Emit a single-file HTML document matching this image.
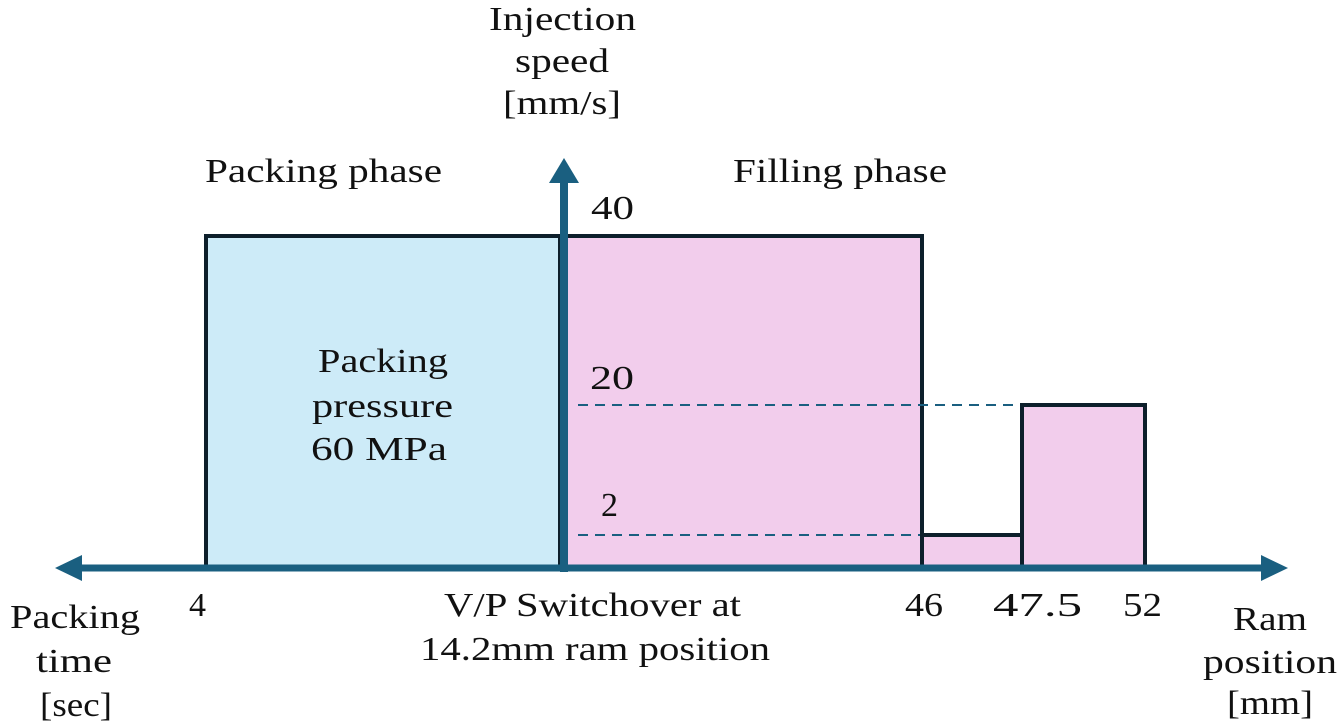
<!DOCTYPE html>
<html><head><meta charset="utf-8"><style>
body{margin:0;background:#fff}
svg{display:block}
text{font-family:"Liberation Serif",serif;font-size:34px;fill:#111}
</style></head><body>
<svg width="1339" height="728" viewBox="0 0 1339 728">
<rect x="206" y="236" width="354" height="332" fill="#cdebf8" stroke="#0d1f2b" stroke-width="4"/>
<rect x="564" y="236" width="358" height="332" fill="#f2cdec" stroke="#0d1f2b" stroke-width="4"/>
<rect x="922" y="535" width="100" height="33" fill="#f2cdec" stroke="#0d1f2b" stroke-width="4"/>
<rect x="1022" y="405" width="123" height="163" fill="#f2cdec" stroke="#0d1f2b" stroke-width="4"/>
<line x1="578" y1="405" x2="1020" y2="405" stroke="#1a5f80" stroke-width="2" stroke-dasharray="10,7"/>
<line x1="578" y1="535" x2="920" y2="535" stroke="#1a5f80" stroke-width="2" stroke-dasharray="10,7"/>
<line x1="80" y1="568" x2="1265" y2="568" stroke="#1a5f80" stroke-width="7"/>
<polygon points="55,568 82,555 82,581" fill="#1a5f80"/>
<polygon points="1288,568 1261,555 1261,581" fill="#1a5f80"/>
<line x1="564" y1="572" x2="564" y2="180" stroke="#1a5f80" stroke-width="8"/>
<polygon points="564,158 549,183 579,183" fill="#1a5f80"/>
<text x="489" y="30" textLength="147" lengthAdjust="spacingAndGlyphs">Injection</text>
<text x="515" y="72" textLength="94" lengthAdjust="spacingAndGlyphs">speed</text>
<text x="503" y="114" textLength="118" lengthAdjust="spacingAndGlyphs">[mm/s]</text>
<text x="205" y="182" textLength="237" lengthAdjust="spacingAndGlyphs">Packing phase</text>
<text x="733" y="182" textLength="214" lengthAdjust="spacingAndGlyphs">Filling phase</text>
<text x="591" y="219" textLength="43" lengthAdjust="spacingAndGlyphs">40</text>
<text x="590" y="389" textLength="44" lengthAdjust="spacingAndGlyphs">20</text>
<text x="601" y="516">2</text>
<text x="318" y="372" textLength="130" lengthAdjust="spacingAndGlyphs">Packing</text>
<text x="312" y="417" textLength="141" lengthAdjust="spacingAndGlyphs">pressure</text>
<text x="311" y="460" textLength="136" lengthAdjust="spacingAndGlyphs">60 MPa</text>
<text x="10" y="628" textLength="130" lengthAdjust="spacingAndGlyphs">Packing</text>
<text x="36" y="672" textLength="76" lengthAdjust="spacingAndGlyphs">time</text>
<text x="40" y="716" textLength="72" lengthAdjust="spacingAndGlyphs">[sec]</text>
<text x="189" y="616">4</text>
<text x="444" y="616" textLength="297" lengthAdjust="spacingAndGlyphs">V/P Switchover at</text>
<text x="420" y="660" textLength="350" lengthAdjust="spacingAndGlyphs">14.2mm ram position</text>
<text x="905" y="616" textLength="38" lengthAdjust="spacingAndGlyphs">46</text>
<text x="993" y="616" textLength="89" lengthAdjust="spacingAndGlyphs">47.5</text>
<text x="1123" y="616" textLength="39" lengthAdjust="spacingAndGlyphs">52</text>
<text x="1233" y="630" textLength="74" lengthAdjust="spacingAndGlyphs">Ram</text>
<text x="1203" y="673" textLength="134" lengthAdjust="spacingAndGlyphs">position</text>
<text x="1227" y="714" textLength="86" lengthAdjust="spacingAndGlyphs">[mm]</text>
</svg>
</body></html>
